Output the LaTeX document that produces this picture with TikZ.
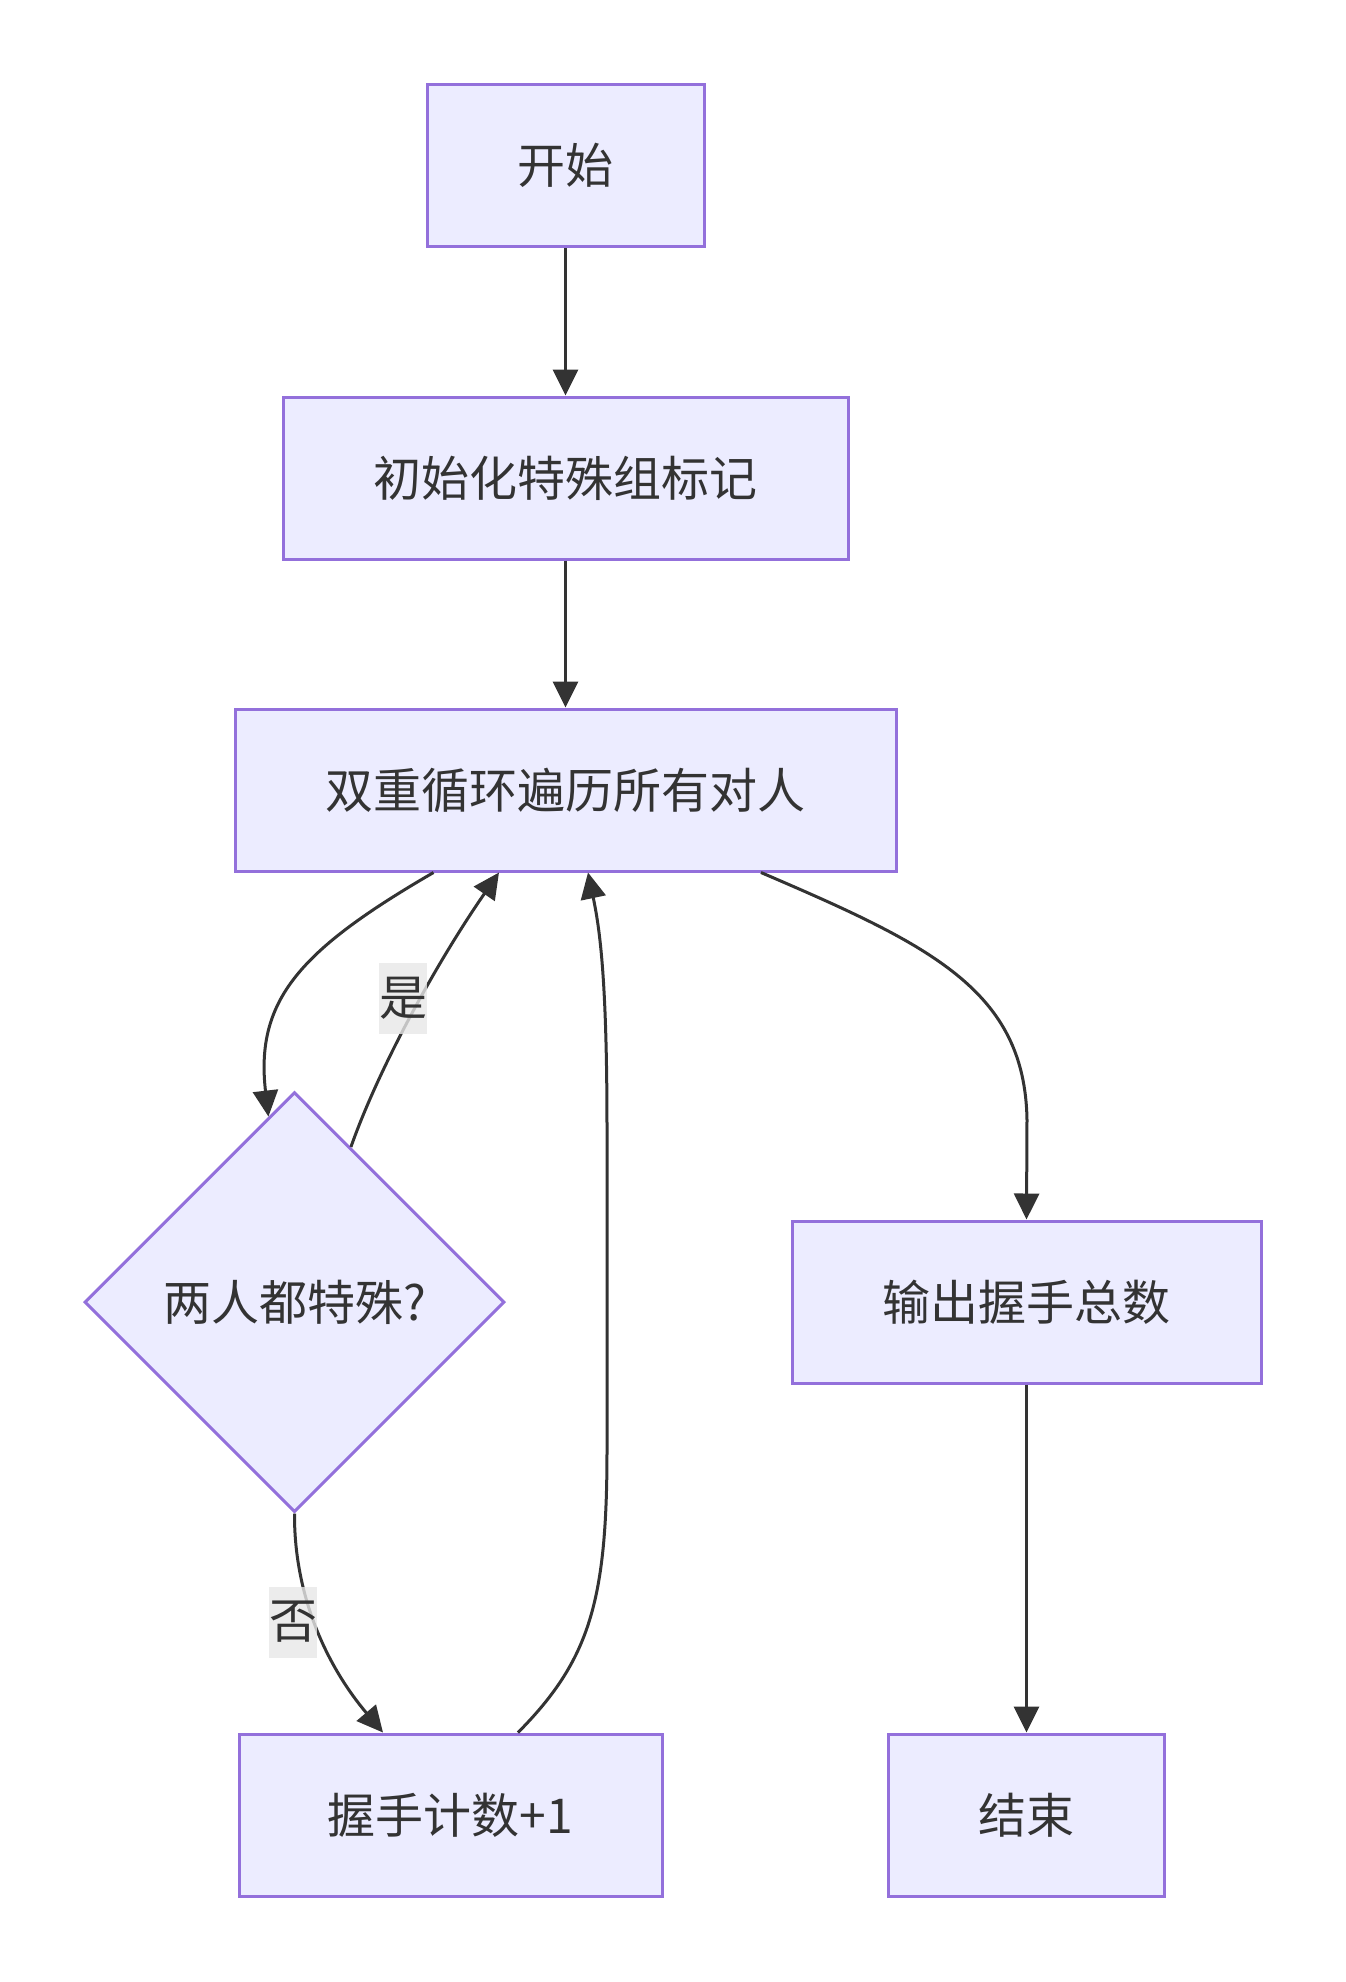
\documentclass[tikz,border=0pt]{standalone}
\usepackage{fontspec}
\setmainfont{Noto Sans CJK SC}
\usetikzlibrary{shapes.geometric,arrows.meta,positioning}
\definecolor{mynode}{RGB}{236,236,255}
\definecolor{myborder}{RGB}{147,112,219}
\definecolor{myline}{RGB}{51,51,51}
\definecolor{mylabel}{RGB}{232,232,232}
\tikzset{
  proc/.style={rectangle,draw=myborder,line width=3pt,fill=mynode,text=myline,
    minimum height=162pt,inner sep=0pt,font=\fontsize{48}{58}\selectfont},
  decision/.style={diamond,draw=myborder,line width=3pt,fill=mynode,text=myline,
    aspect=1,minimum width=420pt,minimum height=420pt,inner sep=0pt,
    font=\fontsize{48}{58}\selectfont},
  flow/.style={-{Triangle[length=26pt,width=25pt]},line width=3pt,color=myline},
  flowlab/.style={fill=mylabel,fill opacity=0.8,text opacity=1,text=myline,
    minimum width=48pt,minimum height=71pt,inner sep=0pt,font=\fontsize{48}{58}\selectfont},
}
\begin{document}
\begin{tikzpicture}[x=1pt,y=-1pt]
  \useasboundingbox[fill=white] (0,0) rectangle (1346,1982);
  % nodes
  \node[proc,minimum width=277pt] (start) at (565.5,165.5) {开始};
  \node[proc,minimum width=565pt] (init) at (565.5,478) {初始化特殊组标记};
  \node[proc,minimum width=661pt] (loop) at (565.5,790) {双重循环遍历所有对人};
  \node[decision] (check) at (294.5,1302) {两人都特殊?};
  \node[proc,minimum width=469pt] (total) at (1026.5,1302) {输出握手总数};
  \node[proc,minimum width=423pt] (count) at (450.5,1815) {握手计数+1};
  \node[proc,minimum width=276pt] (stop) at (1026.5,1815) {结束};
  % edges
  \draw[flow] (start) -- (init);
  \draw[flow] (init) -- (loop);
  \draw[flow] ([xshift=-132pt]loop.south) .. controls (300,950) and (255,1000) .. (check.98.5);
  \draw[flow] (check.70) .. controls (378,1070) and (435,965) .. ([xshift=-66.5pt]loop.south);
  \draw[flow] (check.south) .. controls (294,1600) and (330,1670) .. ([xshift=-67.5pt]count.north);
  \draw[flow] ([xshift=67.5pt]count.north) .. controls (590,1660) and (607,1600) .. (607,1450)
    -- (607,1130) .. controls (607,980) and (600,930) .. ([xshift=22.5pt]loop.south);
  \draw[flow] ([xshift=195.5pt]loop.south) .. controls (930,945) and (1025,990) .. (1027,1120)
    -- (total.north);
  \draw[flow] (total) -- (stop);
  % labels
  \node[flowlab] (yes) at (403,998) {是};
  \node[flowlab] (no) at (293,1622) {否};
\end{tikzpicture}
\end{document}
